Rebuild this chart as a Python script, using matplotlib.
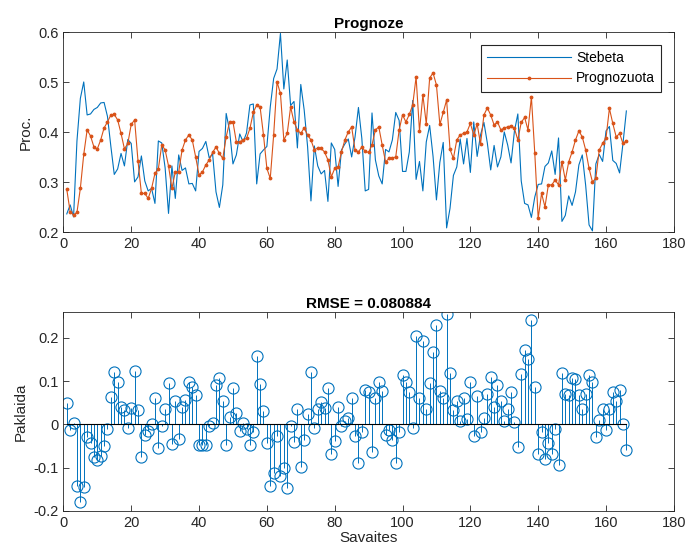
import numpy as np
import matplotlib
matplotlib.use('Agg')
import matplotlib.pyplot as plt

plt.rcParams['font.family'] = ['Liberation Sans', 'DejaVu Sans']
plt.rcParams['axes.unicode_minus'] = False

# weeks 1..166
savaites = np.arange(1, 167)

prognozuota = [
    0.286, 0.241, 0.235, 0.240, 0.288, 0.356, 0.405, 0.393, 0.371, 0.367,
    0.385, 0.409, 0.421, 0.435, 0.436, 0.425, 0.398, 0.367, 0.378, 0.416,
    0.425, 0.343, 0.278, 0.278, 0.268, 0.288, 0.318, 0.327, 0.375, 0.365,
    0.333, 0.288, 0.321, 0.321, 0.365, 0.385, 0.395, 0.385, 0.351, 0.315,
    0.321, 0.335, 0.345, 0.360, 0.371, 0.358, 0.348, 0.391, 0.421, 0.421,
    0.381, 0.381, 0.385, 0.388, 0.408, 0.440, 0.455, 0.451, 0.395, 0.328,
    0.308, 0.395, 0.501, 0.478, 0.385, 0.398, 0.451, 0.421, 0.405, 0.398,
    0.409, 0.395, 0.385, 0.365, 0.369, 0.368, 0.361, 0.345, 0.311, 0.328,
    0.331, 0.361, 0.385, 0.401, 0.411, 0.365, 0.361, 0.371, 0.362, 0.360,
    0.375, 0.405, 0.411, 0.375, 0.341, 0.348, 0.349, 0.351, 0.405, 0.435,
    0.421, 0.436, 0.455, 0.511, 0.403, 0.475, 0.417, 0.509, 0.519, 0.495,
    0.416, 0.440, 0.465, 0.366, 0.348, 0.385, 0.395, 0.398, 0.401, 0.418,
    0.395, 0.417, 0.377, 0.435, 0.449, 0.435, 0.415, 0.421, 0.405, 0.409,
    0.411, 0.413, 0.408, 0.385, 0.420, 0.430, 0.405, 0.471, 0.358, 0.228,
    0.278, 0.251, 0.295, 0.295, 0.305, 0.295, 0.341, 0.305, 0.341, 0.361,
    0.385, 0.403, 0.391, 0.365, 0.328, 0.301, 0.308, 0.365, 0.378, 0.389,
    0.448, 0.418, 0.391, 0.398, 0.378, 0.383]

stebeta = [
    0.237, 0.255, 0.231, 0.383, 0.468, 0.501, 0.435, 0.437, 0.446, 0.450,
    0.459, 0.460, 0.432, 0.372, 0.316, 0.327, 0.358, 0.333, 0.386, 0.378,
    0.301, 0.311, 0.353, 0.303, 0.283, 0.288, 0.258, 0.383, 0.379, 0.329,
    0.238, 0.333, 0.268, 0.355, 0.324, 0.329, 0.297, 0.298, 0.283, 0.362,
    0.368, 0.382, 0.349, 0.357, 0.281, 0.250, 0.295, 0.438, 0.404, 0.337,
    0.355, 0.397, 0.381, 0.399, 0.455, 0.457, 0.297, 0.357, 0.365, 0.372,
    0.451, 0.508, 0.527, 0.598, 0.487, 0.545, 0.454, 0.462, 0.369, 0.496,
    0.445, 0.372, 0.263, 0.373, 0.333, 0.317, 0.324, 0.262, 0.379, 0.366,
    0.292, 0.365, 0.377, 0.387, 0.351, 0.391, 0.450, 0.388, 0.283, 0.286,
    0.439, 0.345, 0.313, 0.297, 0.366, 0.361, 0.385, 0.440, 0.424, 0.322,
    0.322, 0.361, 0.464, 0.306, 0.342, 0.283, 0.381, 0.414, 0.352, 0.265,
    0.340, 0.380, 0.209, 0.248, 0.314, 0.331, 0.387, 0.337, 0.388, 0.320,
    0.421, 0.352, 0.395, 0.420, 0.379, 0.325, 0.374, 0.331, 0.351, 0.401,
    0.375, 0.339, 0.403, 0.437, 0.303, 0.258, 0.255, 0.230, 0.271, 0.296,
    0.297, 0.332, 0.339, 0.363, 0.316, 0.389, 0.222, 0.234, 0.273, 0.254,
    0.281, 0.335, 0.355, 0.294, 0.215, 0.203, 0.337, 0.356, 0.342, 0.403,
    0.412, 0.344, 0.338, 0.319, 0.378, 0.443]

paklaida = [
    0.049, -0.014, 0.004, -0.143, -0.180, -0.145, -0.030, -0.044, -0.075, -0.083,
    -0.074, -0.051, -0.011, 0.063, 0.120, 0.098, 0.040, 0.034, -0.008, 0.038,
    0.124, 0.032, -0.075, -0.025, -0.015, 0.000, 0.060, -0.056, -0.004, 0.036,
    0.095, -0.045, 0.053, -0.034, 0.041, 0.056, 0.098, 0.087, 0.068, -0.047,
    -0.047, -0.047, -0.004, 0.003, 0.090, 0.108, 0.053, -0.047, 0.017, 0.084,
    0.026, -0.016, 0.004, -0.011, -0.047, -0.017, 0.158, 0.094, 0.030, -0.044,
    -0.143, -0.113, -0.026, -0.120, -0.102, -0.147, -0.003, -0.041, 0.036, -0.098,
    -0.036, 0.023, 0.122, -0.008, 0.036, 0.051, 0.037, 0.083, -0.068, -0.038,
    0.039, -0.004, 0.008, 0.014, 0.060, -0.026, -0.089, -0.017, 0.079, 0.074,
    -0.064, 0.060, 0.098, 0.078, -0.025, -0.013, -0.036, -0.089, -0.019, 0.113,
    0.099, 0.075, -0.009, 0.205, 0.061, 0.192, 0.036, 0.095, 0.167, 0.230,
    0.076, 0.060, 0.256, 0.118, 0.034, 0.054, 0.008, 0.061, 0.013, 0.098,
    -0.026, 0.065, -0.018, 0.015, 0.070, 0.110, 0.041, 0.090, 0.054, 0.008,
    0.036, 0.074, 0.005, -0.052, 0.117, 0.172, 0.150, 0.241, 0.087, -0.068,
    -0.019, -0.081, -0.044, -0.068, -0.011, -0.094, 0.119, 0.071, 0.068, 0.107,
    0.104, 0.068, 0.036, 0.071, 0.113, 0.098, -0.029, 0.009, 0.036, -0.014,
    0.036, 0.074, 0.053, 0.079, 0.000, -0.060]

rmse_txt = 'RMSE = 0.080884'

blue = '#0072BD'
orange = '#D95319'
axcol = '#262626'

fig = plt.figure(figsize=(6.89, 5.6), dpi=100)
ax1 = fig.add_axes([0.092, 0.585, 0.886, 0.357])
ax2 = fig.add_axes([0.092, 0.088, 0.886, 0.355])

ax1.plot(savaites, stebeta, color=blue, lw=0.8, label='Stebeta')
ax1.plot(savaites, prognozuota, color=orange, lw=0.8, marker='.', ms=3.5,
         label='Prognozuota')
ax1.set_xlim(0, 180)
ax1.set_ylim(0.2, 0.6)
ax1.set_yticks([0.2, 0.3, 0.4, 0.5, 0.6])
ax1.set_ylabel('Proc.', fontsize=11, color=axcol)
ax1.set_title('Prognoze', fontsize=11, fontweight='bold', pad=3)
leg = ax1.legend(loc='upper right', fontsize=10, fancybox=False,
                 framealpha=1, edgecolor=axcol, borderaxespad=0.9,
                 handlelength=6.0, handletextpad=0.4, borderpad=0.45,
                 labelspacing=0.45)
leg.get_frame().set_linewidth(0.8)

ml, sl, bl = ax2.stem(savaites, paklaida, basefmt='k-')
plt.setp(sl, color=blue, lw=0.7)
plt.setp(ml, color=blue, marker='o', ms=8, markerfacecolor='none', mew=0.8)
plt.setp(bl, color='k', lw=0.8)
ax2.set_xlim(0, 180)
ax2.set_ylim(-0.2, 0.26)
ax2.set_yticks([-0.2, -0.1, 0, 0.1, 0.2])
ax2.set_yticklabels(['-0.2', '-0.1', '0', '0.1', '0.2'])
ax2.set_ylabel('Paklaida', fontsize=11, color=axcol)
ax2.set_xlabel('Savaites', fontsize=11, color=axcol, labelpad=1)
ax2.set_title(rmse_txt, fontsize=11, fontweight='bold', pad=3)

for ax in [ax1, ax2]:
    ax.set_xticks(np.arange(0, 181, 20))
    ax.tick_params(direction='in', top=True, right=True, length=4,
                   width=0.6, labelsize=10.5, colors=axcol)
    for s in ax.spines.values():
        s.set_color(axcol)
        s.set_linewidth(0.6)

fig.savefig('out.png', dpi=100)
plt.close(fig)
